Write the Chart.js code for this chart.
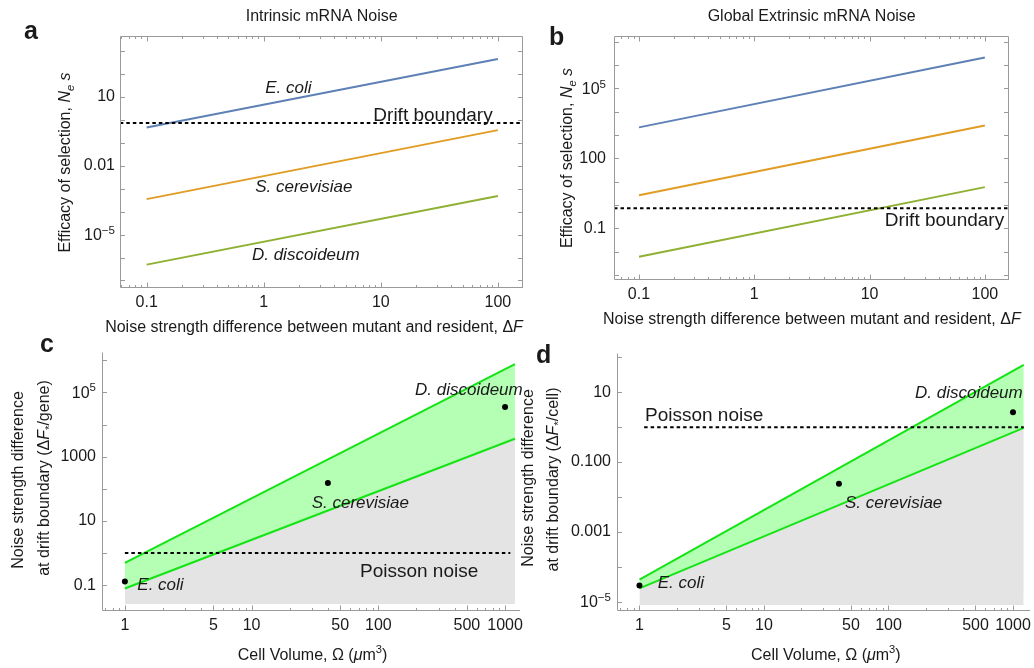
<!DOCTYPE html>
<html>
<head>
<meta charset="utf-8">
<script src="https://cdn.jsdelivr.net/npm/chart.js@4.4.1/dist/chart.umd.min.js"></script>
<style>
html,body{margin:0;padding:0;background:#fff;}
#wrap{position:relative;width:1034px;height:668px;overflow:hidden;}
canvas{position:absolute;left:0;top:0;}
</style>
</head>
<body>
<div id="wrap">
<canvas id="ca" width="1034" height="668"></canvas>
<canvas id="cb" width="1034" height="668"></canvas>
<canvas id="cc" width="1034" height="668"></canvas>
<canvas id="cd" width="1034" height="668"></canvas>
</div>
<script>
// ---------- DATA ----------
// Panel a: intrinsic mRNA noise (Ne*s vs deltaF)
const deltaF_a = [0.1, 100];
const ecoli_a = [0.46, 447];
const scer_a = [3.5e-4, 0.355];
const ddis_a = [4.9e-7, 4.8e-4];
const driftX_a = [0.059, 164];
const drift_a = [0.72, 0.72];
const xTicks_a = [0.1, 1, 10, 100];
const xLabels_a = ['0.1', '1', '10', '100'];
const yTicks_a = [1e-5, 0.01, 10];
const yLabels_a = ['10⁻⁵', '0.01', '10'];

// Panel b: global extrinsic mRNA noise
const deltaF_b = [0.1, 100];
const ecoli_b = [2150, 2.15e6];
const scer_b = [2.67, 2600];
const ddis_b = [0.0061, 5.9];
const driftX_b = [0.0607, 162];
const drift_b = [0.74, 0.74];
const xTicks_b = [0.1, 1, 10, 100];
const xLabels_b = ['0.1', '1', '10', '100'];
const yTicks_b = [0.1, 100, 1e5];
const yLabels_b = ['0.1', '100', '10⁵'];

// Panel c: deltaF*/gene vs cell volume
const volume_c = [1, 1197];
const upper_c = [0.5, 7.5e5];
const lower_c = [0.079, 3600];
const floor_c = [0.026, 0.026];
const poissonX_c = [1, 1100];
const poisson_c = [1, 1];
const speciesVol_c = [1, 40, 1000];
const species_c = [0.13, 152, 35000];
const xTicks_c = [1, 5, 10, 50, 100, 500, 1000];
const xLabels_c = ['1', '5', '10', '50', '100', '500', '1000'];
const yTicks_c = [0.1, 10, 1000, 1e5];
const yLabels_c = ['0.1', '10', '1000', '10⁵'];

// Panel d: deltaF*/cell vs cell volume
const volume_d = [1, 1220];
const upper_d = [4.3e-5, 61];
const lower_d = [2.4e-5, 0.96];
const floor_d = [8e-6, 8e-6];
const poissonX_d = [1.09, 1220];
const poisson_d = [1, 1];
const speciesVol_d = [1, 40, 1000];
const species_d = [2.9e-5, 0.024, 2.7];
const xTicks_d = [1, 5, 10, 50, 100, 500, 1000];
const xLabels_d = ['1', '5', '10', '50', '100', '500', '1000'];
const yTicks_d = [1e-5, 0.001, 0.1, 10];
const yLabels_d = ['10⁻⁵', '0.001', '0.100', '10'];

// ---------- STYLE ----------
const FAM = '"Liberation Sans", Arial, Helvetica, sans-serif';
const TXT = '#1a1a1a';
const FRAME = '#9a9a9a';
const BLUE = '#5E81B5', ORANGE = '#E19C24', GREEN = '#8FB032';
const LIME = 'rgb(20,228,20)', LIMEFILL = 'rgb(180,255,180)', GRAY = 'rgb(228,228,228)';
const TICKSIZE = 16;

const pts = (xs, ys) => xs.map((x, i) => ({x, y: ys[i]}));
const SUPMAP = {'⁻': '−', '⁰': '0', '¹': '1', '²': '2', '³': '3', '⁴': '4', '⁵': '5', '⁶': '6', '⁷': '7', '⁸': '8', '⁹': '9'};
const hasSup = s => /[⁻⁰¹²³⁴⁵⁶⁷⁸⁹]/.test(s);
function supRuns(s) {
  const m = s.match(/^([^⁻⁰¹²³⁴⁵⁶⁷⁸⁹]*)(.*)$/);
  return [m[1], {t: m[2].split('').map(c => SUPMAP[c] || c).join(''), sup: 1}];
}

function rich(ctx, runs, x, y, o) {
  const size = o.size || 16, align = o.align || 'center';
  ctx.save();
  ctx.translate(x, y);
  if (o.rot) ctx.rotate(o.rot);
  ctx.fillStyle = TXT; ctx.textBaseline = 'alphabetic'; ctx.textAlign = 'left';
  const items = runs.map(r => typeof r === 'string' ? {t: r} : Object.assign({}, r));
  let total = 0;
  for (const r of items) {
    const s = size * ((r.sub || r.sup) ? (o.supScale || 0.7) : 1);
    r.font = `${r.i ? 'italic ' : ''}${o.bold ? 'bold ' : ''}${s}px ${FAM}`;
    ctx.font = r.font; r.w = ctx.measureText(r.t).width; total += r.w;
  }
  let cx = align === 'center' ? -total / 2 : (align === 'right' ? -total : 0);
  for (const r of items) {
    ctx.font = r.font;
    ctx.fillText(r.t, cx, r.sub ? size * 0.28 : (r.sup ? -size * 0.42 : 0));
    cx += r.w;
  }
  ctx.restore();
}

function logMarks(lo, hi, mults, majorTest) {
  const out = [];
  for (let d = Math.floor(Math.log10(lo)); d <= Math.ceil(Math.log10(hi)); d++) {
    for (const m of mults) {
      const v = m * Math.pow(10, d);
      if (v >= lo * 0.9999 && v <= hi * 1.0001) out.push({v, major: majorTest(v, m)});
    }
  }
  return out;
}
const inList = (list) => (v) => list.some(t => Math.abs(Math.log10(t) - Math.log10(v)) < 1e-6);

function decor(p) {
  return {
    id: 'decor_' + p.id,
    afterDraw(chart) {
      const ctx = chart.ctx, xs = chart.scales.x, ys = chart.scales.y;
      const ca = chart.chartArea;
      const L = Math.round(ca.left) + 0.5, R = Math.round(ca.right) - 0.5;
      const T = Math.round(ca.top) + 0.5, B = Math.round(ca.bottom) + 0.5;
      ctx.save();
      ctx.strokeStyle = FRAME; ctx.lineWidth = 1;
      ctx.beginPath();
      ctx.moveTo(L, T); ctx.lineTo(L, B); ctx.lineTo(R + 0.5, B);
      if (p.frame) { ctx.moveTo(R, B); ctx.lineTo(R, T); ctx.lineTo(L, T); }
      ctx.stroke();
      // x tick marks (inward)
      const xm = logMarks(xs.min, xs.max, [1,2,3,4,5,6,7,8,9], p.xMajor);
      ctx.beginPath();
      for (const t of xm) {
        const px = Math.round(xs.getPixelForValue(t.v)) + 0.5;
        const len = t.major ? 5 : 2.5;
        ctx.moveTo(px, B); ctx.lineTo(px, B - len);
        if (p.frame) { ctx.moveTo(px, T); ctx.lineTo(px, T + len); }
      }
      const ym = logMarks(ys.min, ys.max, [1], () => true);
      for (const t of ym) {
        const py = Math.round(ys.getPixelForValue(t.v)) + 0.5;
        ctx.moveTo(L, py); ctx.lineTo(L + 4.5, py);
        if (p.frame) { ctx.moveTo(R, py); ctx.lineTo(R - 4.5, py); }
      }
      ctx.stroke();
      ctx.restore();
      // y tick labels with superscripts (power-of-ten labels), placed on the library's y scale
      p.y.ticks.forEach((v, i) => {
        const lab = p.y.labels[i];
        if (!hasSup(lab)) return;
        const py = ys.getPixelForValue(v);
        rich(ctx, supRuns(lab), ca.left - p.yPad, py + TICKSIZE * 0.36, {size: TICKSIZE, align: 'right', supScale: 0.72});
      });
      for (const t of p.texts) rich(ctx, t.runs, t.x, t.y, t);
    }
  };
}

function panel(p) {
  const W = 1034, H = 668, YW = 60, XH = 40;
  const tickFont = {family: FAM, size: TICKSIZE};
  return new Chart(document.getElementById(p.id), {
    type: 'line',
    data: {datasets: p.datasets},
    options: {
      responsive: false, animation: false, devicePixelRatio: 1,
      events: [],
      layout: {padding: {left: p.area.l - YW, top: p.area.t, right: W - p.area.r, bottom: H - p.area.b - XH}},
      plugins: {legend: {display: false}, tooltip: {enabled: false}, filler: {drawTime: 'beforeDatasetsDraw'}},
      scales: {
        x: {
          type: 'logarithmic', position: 'bottom', min: p.x.min, max: p.x.max,
          grid: {display: false, drawTicks: false}, border: {display: false},
          ticks: {autoSkip: false, maxRotation: 0, minRotation: 0, padding: 6, color: TXT, font: tickFont,
                  callback: (v, i) => p.x.labels[i]},
          afterBuildTicks: s => { s.ticks = p.x.ticks.map(v => ({value: v})); },
          afterFit: s => { s.height = XH; s.paddingLeft = 0; s.paddingRight = 0; }
        },
        y: {
          type: 'logarithmic', position: 'left', min: p.y.min, max: p.y.max,
          grid: {display: false, drawTicks: false}, border: {display: false},
          ticks: {autoSkip: false, padding: p.yPad, color: TXT, font: tickFont,
                  callback: (v, i) => hasSup(p.y.labels[i]) ? '' : p.y.labels[i]},
          afterBuildTicks: s => { s.ticks = p.y.ticks.map(v => ({value: v})); },
          afterFit: s => { s.width = YW; s.paddingTop = 0; s.paddingBottom = 0; }
        }
      }
    },
    plugins: [decor(p)]
  });
}

const line = (label, data, color, extra) => Object.assign({
  label, data, borderColor: color, borderWidth: 2, pointRadius: 0, fill: false, tension: 0
}, extra || {});
const dotted = (label, data) => line(label, data, '#000', {borderDash: [3.5, 3], borderWidth: 2});

const yTitleA = ['Efficacy of selection, ', {t: 'N', i: 1}, {t: 'e', i: 1, sub: 1}, ' ', {t: 's', i: 1}];
const xTitleAB = ['Noise strength difference between mutant and resident, Δ', {t: 'F', i: 1}];
const xTitleCD = ['Cell Volume, Ω (', {t: 'μ', i: 1}, 'm', {t: '3', sup: 1}, ')'];

// ---------- PANEL A ----------
panel({
  id: 'ca', frame: true, yPad: 5,
  area: {l: 120, t: 36, r: 523, b: 287},
  x: {min: 0.0592, max: 164, ticks: xTicks_a, labels: xLabels_a},
  y: {min: 5.2e-8, max: 4470, ticks: yTicks_a, labels: yLabels_a},
  xMajor: (v, m) => m === 1,
  datasets: [
    dotted('Drift boundary', pts(driftX_a, drift_a)),
    line('E. coli', pts(deltaF_a, ecoli_a), BLUE),
    line('S. cerevisiae', pts(deltaF_a, scer_a), ORANGE),
    line('D. discoideum', pts(deltaF_a, ddis_a), GREEN)
  ],
  texts: [
    {runs: ['Intrinsic mRNA Noise'], x: 321.7, y: 21, size: 16},
    {runs: ['a'], x: 24, y: 39, size: 25, bold: true, align: 'left'},
    {runs: xTitleAB, x: 314, y: 332, size: 16},
    {runs: yTitleA, x: 70, y: 162.5, size: 16, rot: -Math.PI / 2},
    {runs: [{t: 'E. coli', i: 1}], x: 288.3, y: 93, size: 17},
    {runs: ['Drift boundary'], x: 433, y: 121, size: 19},
    {runs: [{t: 'S. cerevisiae', i: 1}], x: 303.8, y: 191.5, size: 17},
    {runs: [{t: 'D. discoideum', i: 1}], x: 305.8, y: 260, size: 17}
  ]
});

// ---------- PANEL B ----------
panel({
  id: 'cb', frame: true, yPad: 8,
  area: {l: 614, t: 36, r: 1009, b: 279},
  x: {min: 0.0607, max: 162, ticks: xTicks_b, labels: xLabels_b},
  y: {min: 6.8e-4, max: 1.78e7, ticks: yTicks_b, labels: yLabels_b},
  xMajor: (v, m) => m === 1,
  datasets: [
    dotted('Drift boundary', pts(driftX_b, drift_b)),
    line('E. coli', pts(deltaF_b, ecoli_b), BLUE),
    line('S. cerevisiae', pts(deltaF_b, scer_b), ORANGE),
    line('D. discoideum', pts(deltaF_b, ddis_b), GREEN)
  ],
  texts: [
    {runs: ['Global Extrinsic mRNA Noise'], x: 811.7, y: 21, size: 16},
    {runs: ['b'], x: 549, y: 45, size: 25, bold: true, align: 'left'},
    {runs: xTitleAB, x: 811.8, y: 324, size: 16},
    {runs: yTitleA, x: 572, y: 158, size: 16, rot: -Math.PI / 2},
    {runs: ['Drift boundary'], x: 944.5, y: 226, size: 19}
  ]
});

// ---------- PANEL C ----------
panel({
  id: 'cc', frame: false, yPad: 6,
  area: {l: 102, t: 352, r: 520, b: 610},
  x: {min: 0.66, max: 1312, ticks: xTicks_c, labels: xLabels_c},
  y: {min: 0.017, max: 1.8e6, ticks: yTicks_c, labels: yLabels_c},
  xMajor: inList(xTicks_c),
  datasets: [
    {label: 'species', data: pts(speciesVol_c, species_c), showLine: false, pointRadius: 3,
     pointBackgroundColor: '#000', pointBorderWidth: 0, borderColor: '#000'},
    dotted('Poisson noise', pts(poissonX_c, poisson_c)),
    line('upper', pts(volume_c, upper_c), LIME, {fill: {target: 3}, backgroundColor: LIMEFILL}),
    line('lower', pts(volume_c, lower_c), LIME, {fill: {target: 4}, backgroundColor: GRAY}),
    line('floor', pts(volume_c, floor_c), 'rgba(0,0,0,0)', {borderWidth: 0})
  ],
  texts: [
    {runs: ['c'], x: 40, y: 352, size: 25, bold: true, align: 'left'},
    {runs: xTitleCD, x: 312.5, y: 660, size: 16},
    {runs: ['Noise strength difference'], x: 23, y: 480, size: 16, rot: -Math.PI / 2},
    {runs: ['at drift boundary (Δ', {t: 'F', i: 1}, {t: '*', sub: 1}, '/gene)'], x: 49, y: 478, size: 16, rot: -Math.PI / 2},
    {runs: [{t: 'D. discoideum', i: 1}], x: 415, y: 395, size: 17, align: 'left'},
    {runs: [{t: 'S. cerevisiae', i: 1}], x: 311.7, y: 508, size: 17, align: 'left'},
    {runs: [{t: 'E. coli', i: 1}], x: 137.3, y: 590, size: 17, align: 'left'},
    {runs: ['Poisson noise'], x: 360, y: 576.7, size: 19, align: 'left'}
  ]
});

// ---------- PANEL D ----------
panel({
  id: 'cd', frame: false, yPad: 6,
  area: {l: 617, t: 353, r: 1033, b: 610},
  x: {min: 0.66, max: 1370, ticks: xTicks_d, labels: xLabels_d},
  y: {min: 5.75e-6, max: 134, ticks: yTicks_d, labels: yLabels_d},
  xMajor: inList(xTicks_d),
  datasets: [
    {label: 'species', data: pts(speciesVol_d, species_d), showLine: false, pointRadius: 3,
     pointBackgroundColor: '#000', pointBorderWidth: 0, borderColor: '#000'},
    dotted('Poisson noise', pts(poissonX_d, poisson_d)),
    line('upper', pts(volume_d, upper_d), LIME, {fill: {target: 3}, backgroundColor: LIMEFILL}),
    line('lower', pts(volume_d, lower_d), LIME, {fill: {target: 4}, backgroundColor: GRAY}),
    line('floor', pts(volume_d, floor_d), 'rgba(0,0,0,0)', {borderWidth: 0})
  ],
  texts: [
    {runs: ['d'], x: 536, y: 363, size: 25, bold: true, align: 'left'},
    {runs: xTitleCD, x: 825.8, y: 660, size: 16},
    {runs: ['Noise strength difference'], x: 533, y: 478, size: 16, rot: -Math.PI / 2},
    {runs: ['at drift boundary (Δ', {t: 'F', i: 1}, {t: '*', sub: 1}, '/cell)'], x: 558, y: 479.5, size: 16, rot: -Math.PI / 2},
    {runs: ['Poisson noise'], x: 645, y: 421, size: 19, align: 'left'},
    {runs: [{t: 'D. discoideum', i: 1}], x: 915, y: 397.5, size: 17, align: 'left'},
    {runs: [{t: 'S. cerevisiae', i: 1}], x: 845, y: 508, size: 17, align: 'left'},
    {runs: [{t: 'E. coli', i: 1}], x: 657.7, y: 588, size: 17, align: 'left'}
  ]
});
</script>
</body>
</html>
